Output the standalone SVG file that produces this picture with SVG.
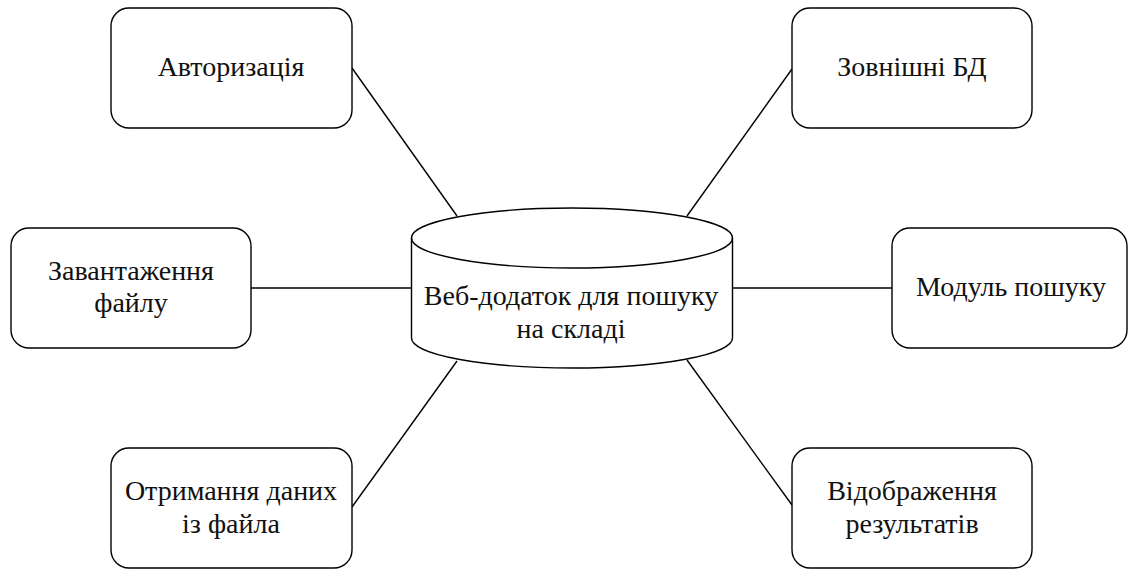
<svg xmlns="http://www.w3.org/2000/svg" width="1128" height="569" viewBox="0 0 1128 569">
<style>
.box{fill:#fff;stroke:#000;stroke-width:1.4}
.conn{stroke:#000;stroke-width:1.4;fill:none}
text{font-family:"Times New Roman",serif;font-size:28px;fill:#111;text-anchor:middle}
</style>
<rect width="1128" height="569" fill="#fff"/>
<g id="connectors">
<line class="conn" x1="352" y1="68" x2="457" y2="216"/>
<line class="conn" x1="792" y1="69" x2="687" y2="216"/>
<line class="conn" x1="251" y1="288" x2="411.5" y2="288"/>
<line class="conn" x1="732" y1="288" x2="892" y2="288"/>
<line class="conn" x1="352" y1="507" x2="457" y2="361"/>
<line class="conn" x1="792" y1="505" x2="687" y2="360"/>
</g>
<g id="center">
<path class="box" d="M411.5,238 A160.5,30 0 0 1 732.5,238 L732.5,338 A160.5,30 0 0 1 411.5,338 Z"/>
<path class="conn" d="M411.5,238 A160.5,30 0 0 0 732.5,238"/>
<text x="571" y="305">Веб-додаток для пошуку</text>
<text x="571" y="338">на складі</text>
</g>
<g id="auth">
<rect class="box" x="111" y="8" width="241" height="120" rx="18"/>
<text x="231" y="76">Авторизація</text>
</g>
<g id="extdb">
<rect class="box" x="792" y="8" width="240" height="120" rx="18"/>
<text x="912" y="76">Зовнішні БД</text>
</g>
<g id="upload">
<rect class="box" x="11" y="228" width="240" height="120" rx="18"/>
<text x="131" y="280">Завантаження</text>
<text x="131" y="312">файлу</text>
</g>
<g id="search">
<rect class="box" x="892" y="228" width="235" height="120" rx="18"/>
<text x="1011" y="296">Модуль пошуку</text>
</g>
<g id="extract">
<rect class="box" x="111" y="448" width="241" height="120" rx="18"/>
<text x="231" y="500">Отримання даних</text>
<text x="231" y="533">із файла</text>
</g>
<g id="display">
<rect class="box" x="792" y="448" width="240" height="120" rx="18"/>
<text x="912" y="500">Відображення</text>
<text x="912" y="533">результатів</text>
</g>
</svg>
